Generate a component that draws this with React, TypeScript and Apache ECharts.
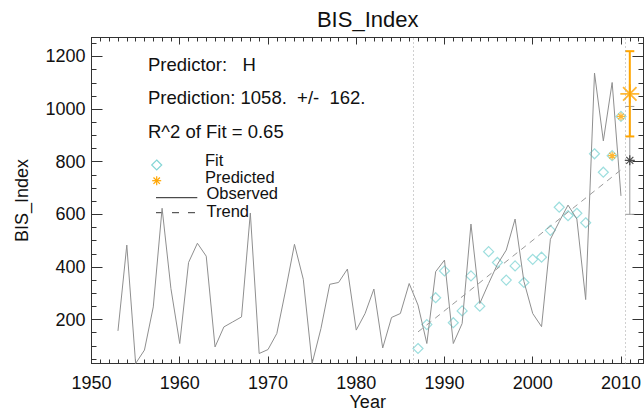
import React, { useEffect, useRef } from "react";
import * as echarts from "echarts";

const obsYears = [1953,1954,1955,1956,1957,1958,1959,1960,1961,1962,1963,1964,1965,1966,1967,1968,1969,1970,1971,1972,1973,1974,1975,1976,1977,1978,1979,1980,1981,1982,1983,1984,1985,1986,1987,1988,1989,1990,1991,1992,1993,1994,1995,1996,1997,1998,1999,2000,2001,2002,2003,2004,2005,2006,2007,2008,2009,2010];
const obsValues = [157,483,33,84,248,623,318,109,417,490,441,96,172,191,210,605,71,86,147,312,486,353,33,166,334,341,392,160,223,316,92,208,223,337,255,109,382,426,109,185,563,261,337,410,464,582,345,223,173,505,572,635,582,276,1137,879,1101,670];

const fitYears = [1987,1988,1989,1990,1991,1992,1993,1994,1995,1996,1997,1998,1999,2000,2001,2002,2003,2004,2005,2006,2007,2008,2009,2010];
const fitValues = [90,181,283,385,188,233,366,251,458,417,350,404,341,429,437,539,627,595,604,568,830,760,823,972];

const predYears = [2009, 2010];
const predValues = [823, 972];

const trendYears = [1987, 2010];
const trendValues = [153, 769];

const forecastYear = 2011;
const forecastValue = 1058;
const forecastErr = 162;
const altValue = 805;
const altErr = 205;

const dividerYears = [1986.5, 2010.5];

const xTickLabels = [1950, 1960, 1970, 1980, 1990, 2000, 2010];
const yTickLabels = [200, 400, 600, 800, 1000, 1200];

const X_MIN = 1950;
const X_MAX = 2012.55;
const Y_MIN = 33;
const Y_MAX = 1272;

const xMinor: number[] = [];
for (let y = 1950; y <= 2012; y++) xMinor.push(y);
const yMinor: number[] = [];
for (let v = 50; v <= 1250; v += 50) yMinor.push(v);

const AXIS = "#333";
const OBS = "#8f8f8f";
const CYAN = "#84d6d6";
const ORANGE = "#ffa500";
const FONT = "Liberation Sans, Arial, Helvetica, sans-serif";

const asterisk = "path://M0,-10L0,10M-10,0L10,0M-7.07,-7.07L7.07,7.07M-7.07,7.07L7.07,-7.07";

function xAxisDef(pos: "bottom" | "top", ticks: number[], len: number, labels: boolean) {
  return {
    type: "value",
    position: pos,
    min: X_MIN,
    max: X_MAX,
    axisLine: { show: true, lineStyle: { color: AXIS, width: 1 } },
    axisTick: { show: true, inside: true, length: len, customValues: ticks, lineStyle: { color: AXIS } },
    axisLabel: labels
      ? { show: true, customValues: ticks, margin: 10, fontSize: 18, fontFamily: FONT, color: "#111", formatter: (v: number) => String(v) }
      : { show: false },
    splitLine: { show: false },
  };
}

function yAxisDef(pos: "left" | "right", ticks: number[], len: number, labels: boolean) {
  return {
    type: "value",
    position: pos,
    min: Y_MIN,
    max: Y_MAX,
    axisLine: { show: true, lineStyle: { color: AXIS, width: 1 } },
    axisTick: { show: true, inside: true, length: len, customValues: ticks, lineStyle: { color: AXIS } },
    axisLabel: labels
      ? { show: true, customValues: ticks, margin: 6, fontSize: 18, fontFamily: FONT, color: "#111", formatter: (v: number) => String(v) }
      : { show: false },
    splitLine: { show: false },
  };
}

function txt(text: string, x: number, y: number, size: number, align = "left", rotation = 0) {
  return {
    type: "text",
    x,
    y,
    rotation,
    silent: true,
    style: {
      text,
      fontSize: size,
      fontFamily: FONT,
      fill: "#111",
      align,
      verticalAlign: "middle",
      textAlign: align,
      textVerticalAlign: "middle",
      lineHeight: size,
    },
  };
}

export default function App() {
  const ref = useRef<HTMLDivElement>(null);

  useEffect(() => {
    if (!ref.current) return;
    const chart = echarts.init(ref.current, undefined, { renderer: "svg" });

    const errRender = (params: any, api: any) => {
      const x = api.value(0);
      const lo = api.coord([x, api.value(1)]);
      const hi = api.coord([x, api.value(2)]);
      const color = api.value(3) === 1 ? ORANGE : "#9a9a9a";
      const lw = api.value(3) === 1 ? 2 : 1;
      const half = 4.5;
      return {
        type: "group",
        children: [
          { type: "line", shape: { x1: lo[0], y1: lo[1], x2: hi[0], y2: hi[1] }, style: { stroke: color, lineWidth: lw } },
          { type: "line", shape: { x1: lo[0] - half, y1: lo[1], x2: lo[0] + half, y2: lo[1] }, style: { stroke: color, lineWidth: lw } },
          { type: "line", shape: { x1: hi[0] - half, y1: hi[1], x2: hi[0] + half, y2: hi[1] }, style: { stroke: color, lineWidth: lw } },
        ],
      };
    };

    const option: any = {
      animation: false,
      backgroundColor: "#fff",
      grid: { left: 91.5, right: 0, top: 37.5, bottom: 49.5, containLabel: false },
      xAxis: [
        xAxisDef("bottom", xTickLabels, 7, true),
        xAxisDef("bottom", xMinor, 4, false),
        xAxisDef("top", xTickLabels, 7, false),
        xAxisDef("top", xMinor, 4, false),
      ],
      yAxis: [
        yAxisDef("left", yTickLabels, 11, true),
        yAxisDef("left", yMinor, 5, false),
        yAxisDef("right", yTickLabels, 11, false),
        yAxisDef("right", yMinor, 5, false),
      ],
      series: [
        {
          type: "line",
          data: obsYears.map((y, i) => [y, obsValues[i]]),
          showSymbol: false,
          symbol: "none",
          lineStyle: { color: OBS, width: 1 },
          silent: true,
          markLine: {
            silent: true,
            symbol: "none",
            label: { show: false },
            lineStyle: { color: "#a0a0a0", type: [1, 3], width: 1 },
            data: dividerYears.map((x) => ({ xAxis: x })),
          },
        },
        {
          type: "line",
          data: trendYears.map((y, i) => [y, trendValues[i]]),
          showSymbol: false,
          symbol: "none",
          lineStyle: { color: "#9a9a9a", width: 1, type: [6, 5] },
          silent: true,
        },
        {
          type: "scatter",
          data: fitYears.map((y, i) => [y, fitValues[i]]),
          symbol: "diamond",
          symbolSize: 10,
          itemStyle: { color: "rgba(0,0,0,0)", borderColor: CYAN, borderWidth: 1.2 },
          silent: true,
        },
        {
          type: "scatter",
          data: predYears.map((y, i) => [y, predValues[i]]),
          symbol: asterisk,
          symbolSize: 8,
          itemStyle: { color: "rgba(0,0,0,0)", borderColor: ORANGE, borderWidth: 1.2 },
          silent: true,
        },
        {
          type: "custom",
          renderItem: errRender,
          data: [
            [forecastYear, altValue - altErr, altValue + altErr, 0],
            [forecastYear, forecastValue - forecastErr, forecastValue + forecastErr, 1],
          ],
          silent: true,
          z: 3,
        },
        {
          type: "scatter",
          data: [[forecastYear, altValue]],
          symbol: asterisk,
          symbolSize: 10,
          itemStyle: { color: "rgba(0,0,0,0)", borderColor: "#222", borderWidth: 1.2 },
          silent: true,
          z: 4,
        },
        {
          type: "scatter",
          data: [[forecastYear, forecastValue]],
          symbol: asterisk,
          symbolSize: 19,
          itemStyle: { color: "rgba(0,0,0,0)", borderColor: ORANGE, borderWidth: 1.8 },
          silent: true,
          z: 4,
        },
      ],
      graphic: [
        txt("BIS_Index", 367.7, 19, 22, "center"),
        txt("BIS_Index", 22, 200.5, 18, "center", Math.PI / 2),
        txt("Year", 367.7, 402, 18, "center"),
        txt("Predictor:   H", 148, 64.5, 18.5),
        txt("Prediction: 1058.  +/-  162.", 148, 97, 18.5),
        txt("R^2 of Fit = 0.65", 148, 131, 18.5),
        txt("Fit", 205, 160, 16.5),
        txt("Predicted", 205, 176.6, 16.5),
        txt("Observed", 206.5, 193.2, 16.5),
        txt("Trend", 206.5, 210.5, 16.5),
        {
          type: "polygon",
          silent: true,
          shape: { points: [[156.7, 160], [161.7, 165], [156.7, 170], [151.7, 165]] },
          style: { fill: "none", stroke: CYAN, lineWidth: 1.2 },
        },
        {
          type: "group",
          silent: true,
          children: [
            { type: "line", shape: { x1: 152.2, y1: 180.7, x2: 161.2, y2: 180.7 }, style: { stroke: ORANGE, lineWidth: 1.2 } },
            { type: "line", shape: { x1: 156.7, y1: 176.2, x2: 156.7, y2: 185.2 }, style: { stroke: ORANGE, lineWidth: 1.2 } },
            { type: "line", shape: { x1: 153.5, y1: 177.5, x2: 159.9, y2: 183.9 }, style: { stroke: ORANGE, lineWidth: 1.2 } },
            { type: "line", shape: { x1: 153.5, y1: 183.9, x2: 159.9, y2: 177.5 }, style: { stroke: ORANGE, lineWidth: 1.2 } },
          ],
        },
        {
          type: "line",
          silent: true,
          shape: { x1: 156, y1: 197.7, x2: 197.3, y2: 197.7 },
          style: { stroke: "#222", lineWidth: 1 },
        },
        {
          type: "line",
          silent: true,
          shape: { x1: 156, y1: 212.7, x2: 197.3, y2: 212.7 },
          style: { stroke: "#333", lineWidth: 1, lineDash: [7, 9] },
        },
      ],
    };

    chart.setOption(option);
    return () => chart.dispose();
  }, []);

  return (
    <div
      ref={ref}
      style={{ position: "fixed", left: 0, top: 0, width: 644, height: 413, background: "#fff" }}
    />
  );
}
